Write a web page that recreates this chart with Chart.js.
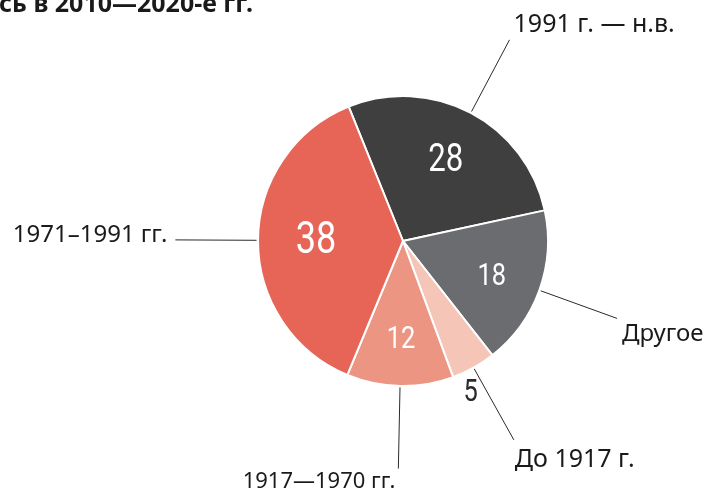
<!DOCTYPE html>
<html>
<head>
<meta charset="utf-8">
<script src="https://cdn.jsdelivr.net/npm/chart.js@4/dist/chart.umd.min.js"></script>
<style>
  html, body { margin: 0; padding: 0; background: #fff; }
  #wrap { width: 706px; height: 490px; }
</style>
</head>
<body>
<div id="wrap"><canvas id="chart" width="706" height="490"></canvas></div>
<script>
// Data
const titleText = "сь в 2010—2020-е гг."
const categories = ["1991 г. — н.в.", "Другое", "До 1917 г.", "1917—1970 гг.", "1971–1991 гг."]
const values = [28, 18, 5, 12, 38]
const sliceColors = ["#3f3f40", "#6b6c70", "#f5c5b7", "#ec9583", "#e66557"]

// Style of value labels
const valueFontSizes = [38, 31, 31, 31, 44]
const valueColors = ["#ffffff", "#ffffff", "#2b2b2b", "#ffffff", "#ffffff"]
const valueRadius = [0.63, 0.66, 1.14, 0.68, 0.6]
const valueAngleShift = [0, 2, 5, 0, 0]

// Leader lines and category labels: [align, dx, dy, font size] relative to line end
const labelAnchors = [
  ["left", 4, -8, 25],
  ["left", 5, 23, 24],
  ["left", 1, 27, 25],
  ["right", -3, 19, 22],
  ["right", -8, 2, 24],
]
const lineFrom = 1.01
const lineTo = 1.57

const labelsPlugin = {
  id: "pieLabels",
  afterDatasetsDraw(chart) {
    const ctx = chart.ctx
    const arcs = chart.getDatasetMeta(0).data

    // Title (cut off at the top like the original)
    ctx.save()
    ctx.fillStyle = "#1a1a1a"
    ctx.font = "bold 25px 'Noto Sans'"
    ctx.textAlign = "left"
    ctx.textBaseline = "alphabetic"
    ctx.fillText(titleText, -1, 12)
    ctx.restore()

    arcs.forEach((arc, i) => {
      const { x, y, startAngle, endAngle, outerRadius } = arc.getProps(
        ["x", "y", "startAngle", "endAngle", "outerRadius"], true)
      const mid = (startAngle + endAngle) / 2

      // Leader line
      const x1 = x + Math.cos(mid) * outerRadius * lineFrom
      const y1 = y + Math.sin(mid) * outerRadius * lineFrom
      const x2 = x + Math.cos(mid) * outerRadius * lineTo
      const y2 = y + Math.sin(mid) * outerRadius * lineTo
      ctx.save()
      ctx.strokeStyle = "#2a2a2a"
      ctx.lineWidth = 1
      ctx.beginPath()
      ctx.moveTo(x1, y1)
      ctx.lineTo(x2, y2)
      ctx.stroke()

      // Category label
      const [align, dx, dy, size] = labelAnchors[i]
      ctx.fillStyle = "#1a1a1a"
      ctx.font = size + "px 'Noto Sans'"
      ctx.textAlign = align
      ctx.textBaseline = "alphabetic"
      ctx.fillText(categories[i], x2 + dx, y2 + dy)

      // Value label (condensed digits)
      const a = mid + valueAngleShift[i] * Math.PI / 180
      const vx = x + Math.cos(a) * outerRadius * valueRadius[i]
      const vy = y + Math.sin(a) * outerRadius * valueRadius[i]
      ctx.translate(vx, vy)
      ctx.scale(0.82, 1)
      ctx.fillStyle = valueColors[i]
      ctx.font = "400 " + valueFontSizes[i] + "px Roboto"
      ctx.textAlign = "center"
      ctx.textBaseline = "middle"
      ctx.fillText(String(values[i]), 0, 1)
      ctx.restore()
    })
  },
}

new Chart(document.getElementById("chart"), {
  type: "pie",
  data: {
    labels: categories,
    datasets: [
      {
        data: values,
        backgroundColor: sliceColors,
        borderColor: "#ffffff",
        borderWidth: 2,
      },
    ],
  },
  options: {
    responsive: false,
    animation: false,
    rotation: -22,
    layout: {
      padding: { top: 95, bottom: 103, left: 257, right: 157 },
    },
    plugins: {
      legend: { display: false },
      tooltip: { enabled: false },
    },
  },
  plugins: [labelsPlugin],
})
</script>
</body>
</html>
